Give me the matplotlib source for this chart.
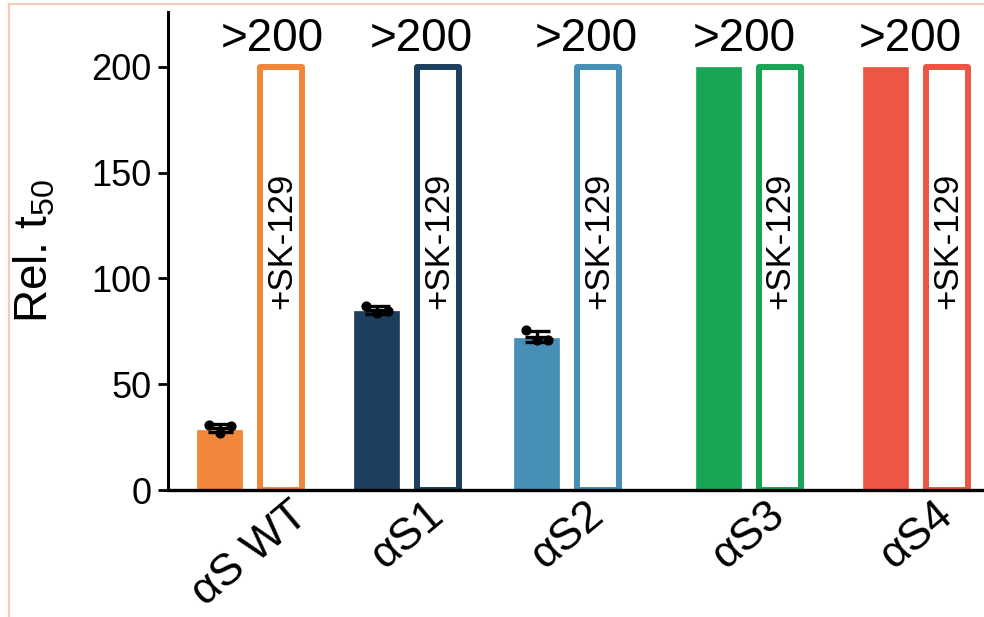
import numpy as np
import matplotlib
matplotlib.use("Agg")
import matplotlib.pyplot as plt
from matplotlib.lines import Line2D

plt.rcParams['font.family'] = ['Liberation Sans', 'DejaVu Sans']
plt.rcParams['mathtext.default'] = 'regular'

# Data
groups = ["αS WT", "αS1", "αS2", "αS3", "αS4"]
colors = ["#F0873A", "#1C3F5F", "#4690B5", "#19A555", "#EB5744"]
untreated = [28.5, 84.5, 72.0, 200, 200]
treated = [200, 200, 200, 200, 200]
replicates = [[30.5, 30.2, 27.0], [87.0, 84.5, 83.5], [75.5, 71.0, 71.0], [], []]
treated_label = "+SK-129"
cap_label = ">200"

# Layout (axis units, 1 unit = 100 px)
filled_x = np.array([0.515, 2.085, 3.685, 5.50, 7.175])
open_offset = 0.615
cap_label_x = [1.04, 2.53, 4.18, 5.76, 7.42]

fig = plt.figure(figsize=(9.84, 6.17), dpi=100)
ax = fig.add_axes([168 / 984, 127 / 617, 1 - 168 / 984, (605 - 127) / 617])

for i in range(len(groups)):
    c = colors[i]
    ax.bar(filled_x[i], untreated[i], width=0.45, color=c, edgecolor=c,
           linewidth=0.5, zorder=2)
    ax.bar(filled_x[i] + open_offset, treated[i], width=0.42, facecolor="white",
           edgecolor=c, linewidth=4.3, joinstyle="round", zorder=2)
    ax.text(filled_x[i] + open_offset + 0.005, 118, treated_label, rotation=90,
            ha="center", va="center", fontsize=25, zorder=4)
    ax.text(cap_label_x[i], 213, cap_label, ha="center", va="center",
            fontsize=33, zorder=4)
    pts = replicates[i]
    if pts:
        pts = np.array(pts)
        jitter = np.array([-0.11, 0.11, 0.0])[:len(pts)]
        ax.errorbar(filled_x[i], pts.mean(), yerr=pts.std(ddof=1), fmt="none",
                    ecolor="black", elinewidth=2.4, capsize=9, capthick=2.4,
                    zorder=5)
        ax.hlines(pts.mean(), filled_x[i] - 0.12, filled_x[i] + 0.12,
                  color="black", linewidth=2.4, zorder=5)
        ax.scatter(filled_x[i] + jitter, pts, s=40, color="black", zorder=6)

group_centers = filled_x + open_offset / 2
ax.set_xticks(group_centers)
ax.set_xticklabels(groups, rotation=40, ha="center", va="top", fontsize=32)
ax.tick_params(axis="x", length=0, pad=3)

ax.set_xlim(0, 8.16)
ax.set_ylim(0, 226)
ax.set_yticks([0, 50, 100, 150, 200])
ax.tick_params(axis="y", labelsize=26, length=7, width=2, pad=5)
ax.set_ylabel("Rel. t$_{50}$", fontsize=33, labelpad=24)

for s in ["top", "right"]:
    ax.spines[s].set_visible(False)
ax.spines["left"].set_linewidth(2.2)
ax.spines["bottom"].set_linewidth(2.4)
ax.spines["left"].set_zorder(7)
ax.spines["bottom"].set_zorder(7)

# Frame edges
fig.add_artist(Line2D([9 / 984, 1], [1 - 4 / 617, 1 - 4 / 617],
                      color="#F6CDB4", linewidth=1.6))
fig.add_artist(Line2D([9 / 984, 9 / 984], [0, 1 - 4 / 617],
                      color="#F6CDB4", linewidth=1.6))

fig.savefig("out.png", dpi=100)
